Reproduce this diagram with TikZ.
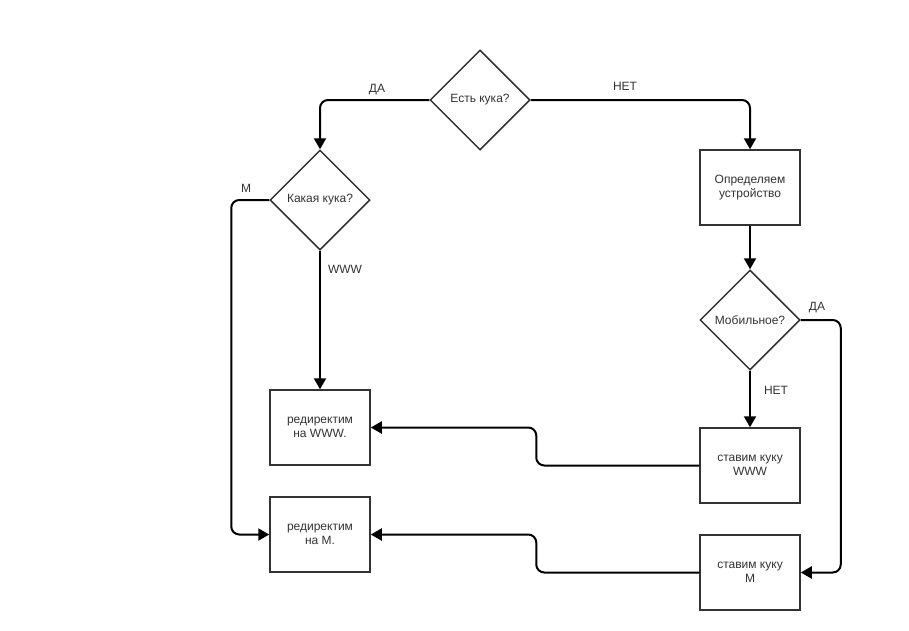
\documentclass[tikz,border=0pt]{standalone}
\usepackage{fontspec}
\setmainfont{Liberation Sans}
\usetikzlibrary{shapes.geometric,arrows.meta,positioning}

\definecolor{edge}{HTML}{333333}

\tikzset{
  box/.style={draw=edge, line width=1.5pt, fill=white, minimum width=100pt, minimum height=75pt, align=center, inner sep=2pt},
  decision/.style={draw=edge, line width=1.5pt, fill=white, diamond, minimum width=100pt, minimum height=100pt, inner sep=0pt, align=center},
  link/.style={line width=2pt, rounded corners=8pt, -{Triangle[width=12pt,length=11pt]}},
  lbl/.style={text=edge, inner sep=1pt}
}

\begin{document}
\begin{tikzpicture}[x=1pt, y=-1pt, font=\fontsize{12}{14}\selectfont, text=edge]
        \useasboundingbox (0,0) rectangle (909,630);
        % decisions and steps
        \node[decision] (hascookie) at (480,100) {Есть кука?};
        \node[decision] (whichcookie) at (320,200) {Какая кука?};
        \node[box] (detect) at (750,187.5) {Определяем\\устройство};
        \node[decision] (mobile) at (750,320) {Мобильное?};
        \node[box] (redirwww) at (320,427.5) {редиректим\\на WWW.};
        \node[box] (setwww) at (750,465.5) {ставим куку\\WWW};
        \node[box] (redirm) at (320,534.5) {редиректим\\на М.};
        \node[box] (setm) at (750,572.5) {ставим куку\\М};

        % connectors
        \draw[link] (hascookie.west) -| (whichcookie.north);
        \draw[link] (hascookie.east) -| (detect.north);
        \draw[link] (detect) -- (mobile);
        \draw[link] (whichcookie) -- (redirwww);
        \draw[link] (whichcookie.west) -- ++(-38,0) |- (redirm.west);
        \draw[link] (mobile) -- (setwww);
        \draw[link] (mobile.east) -- ++(40,0) |- (setm.east);
        \draw[link] (setwww.west) -- ++(-163,0) |- (redirwww.east);
        \draw[link] (setm.west) -- ++(-163,0) |- (redirm.east);

        % labels
        \node[lbl] (yes1) at (377,90) {ДА};
        \node[lbl] (no1) at (625,86) {НЕТ};
        \node[lbl] (mlbl) at (246,188) {М};
        \node[lbl] (wwwlbl) at (345,269) {WWW};
        \node[lbl] (yes2) at (817,308) {ДА};
        \node[lbl] (no2) at (776,390) {НЕТ};
    \end{tikzpicture}
\end{document}
